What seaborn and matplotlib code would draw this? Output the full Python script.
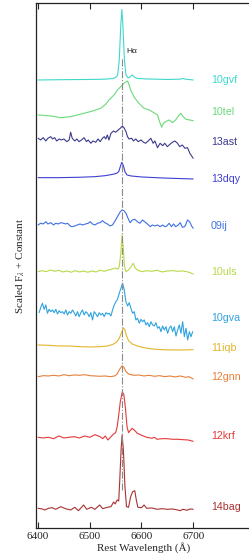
import numpy as np
import pandas as pd
import seaborn as sns
import matplotlib
matplotlib.use('Agg')
import matplotlib.pyplot as plt

# Spectra around H-alpha, flux scaled, offsets added below
names = ['10gvf', '10tel', '13ast', '13dqy', '09ij', '10uls',
         '10gva', '11iqb', '12gnn', '12krf', '14bag']
colors = ['#3fd8ca', '#6bd97c', '#3b3b8c', '#3f3fd2', '#3f70e2', '#b8d84a',
          '#2fa3de', '#e1b52b', '#e6803b', '#e23a3a', '#a83232']
offsets = [478, 443, 418, 380, 334, 286, 248, 212, 182, 120, 50]
label_y = [478.3, 446.3, 415.5, 378.5, 332.2, 285.5, 239.7, 209.7, 180.5, 122.2, 50.8]

wl_10gvf = [6400, 6450, 6500, 6530, 6545, 6550, 6554, 6557, 6560, 6562, 6564, 6567,
            6570, 6574, 6578, 6582, 6586, 6592, 6610, 6650, 6675, 6680, 6685, 6700]
fx_10gvf = [0, 0.3, 0.5, 0.8, 1.5, 2.5, 5, 20, 55, 70.5, 55, 20,
            5, 2, 3, 5, 3, 1.5, 1, 0.5, 0.8, 1.5, 0.8, 0]

wl_10tel = [6400, 6424.5, 6444, 6463, 6489, 6508, 6521, 6531, 6537, 6547, 6553.5, 6560,
            6566, 6573, 6576, 6579, 6586, 6595, 6605, 6615, 6624, 6631, 6635, 6639,
            6642.5, 6647, 6653.5, 6660, 6666, 6673, 6676, 6680.6, 6686, 6700]
fx_10tel = [0, -1, -2.7, -1.7, 1.7, 4.3, 6.7, 10.7, 15, 20, 25, 28.3,
            31.7, 34, 30, 25, 17.7, 11.7, 6.7, 5, 2.3, 0, -6.7, -12.3,
            -8.3, -6.7, -5, -7.7, -5, 0, 1.7, -1.7, -4.3, -5.7]

wl_13ast = [6400, 6405, 6410, 6415, 6419, 6424.5, 6428, 6432, 6436, 6441, 6445, 6450,
            6455.5, 6460, 6463, 6466, 6471, 6475, 6479, 6484, 6489, 6493.5, 6497, 6502,
            6506, 6511.5, 6516, 6520, 6524.5, 6528, 6531, 6534, 6537, 6541, 6546, 6550,
            6555, 6559, 6563, 6566, 6570, 6573, 6576, 6581, 6584.5, 6589, 6593.5, 6599,
            6604, 6608, 6613, 6618, 6622.5, 6626, 6631, 6636, 6641, 6645, 6650, 6655,
            6660, 6664.5, 6669.6, 6674, 6679, 6684, 6689, 6693.5, 6700]
fx_13ast = [1.7, 0, 2.3, -1, 1.7, 3.3, 1, 2.3, -1, 1, 0, 1,
            -1.7, 0, 7.7, 1.7, -1, 1, -1.7, 0, 2.3, -1.7, 0, -3.3,
            -1, -2.3, 1, -1.7, 1.7, 3.3, 1, 5, 0, 6.7, 9, 7.7,
            10, 11.7, 14, 12.3, 8.3, 3.3, 1, 1.7, -1, 1, -1.7, 0,
            -2.3, -3.3, -1, 1.7, -3.3, -1, -7.7, -3.3, -5.7, -3.3, -6.7, -4.3,
            -2.3, -1, -3.3, -6.7, -5, -8.3, -7.7, -13.3, -18.3]

wl_13dqy = [6400, 6440, 6480, 6510, 6530, 6545, 6552, 6556, 6559, 6562, 6565, 6568,
            6572, 6580, 6600, 6640, 6680, 6700]
fx_13dqy = [0.3, 0.3, 0.7, 1.3, 2.3, 3.7, 4.7, 6.3, 11.3, 15.7, 12.3, 6.3,
            3, 2, 1, 0, -0.7, -1]

wl_09ij = [6400, 6405, 6410, 6415, 6419, 6424.5, 6430, 6434, 6439, 6444, 6449, 6453.5,
           6457, 6462, 6466, 6471, 6476, 6481, 6486, 6492, 6497, 6501, 6505, 6510,
           6515, 6520, 6524.5, 6529, 6534, 6539, 6544, 6548, 6553.5, 6559, 6562.5, 6566,
           6570, 6574, 6578, 6582.5, 6587, 6592, 6597, 6602, 6606, 6611.5, 6617, 6621,
           6626, 6631, 6636, 6640.6, 6645, 6649, 6653.5, 6658, 6662, 6666, 6671, 6675,
           6679, 6683.5, 6686, 6689, 6693, 6697, 6700]
fx_09ij = [-1, 0.7, 0, 2.3, 0, 1.3, -1, 0.7, 0, 1.3, 0.7, 0,
           0.7, -2, -2.7, -2, -1, 0, -1, 0, 0.7, 2.3, 0, -1,
           0.7, 1.3, 3.3, 1.3, 0, -2, -1, 2.3, 7.3, 12.3, 14, 13.3,
           10.7, 5.7, 1.3, 4, 4.7, 2.3, 0.7, 4, 2.3, 0, -2.7, -1,
           -2, -1, -2.7, -1, -2.7, -2, 0.7, -2.7, 0, -2.7, -1, 1.3,
           -3.3, -2.7, 0, 4, 2.3, -2, -4.3]

wl_10uls = [6400, 6408, 6416, 6424, 6432, 6440, 6448, 6456, 6464, 6472, 6480, 6488,
            6496, 6504, 6512, 6520, 6528, 6536, 6544, 6550, 6554, 6557, 6560, 6562.5,
            6565, 6567, 6570, 6575, 6580, 6584, 6588, 6594, 6602, 6610, 6620, 6630,
            6640, 6650, 6660, 6670, 6680, 6690, 6700]
fx_10uls = [0.3, 1.3, 0.3, 2, 0.7, 1.7, 0, 1, -0.3, 1.3, 0, 1,
            -0.3, 1, 0, 1.7, 0.7, 2, 3, 4, 2.7, 5.3, 18.7, 37,
            22, 5.3, 0.3, 2, 5.3, 8.7, 3.7, 1.3, 0.3, 1.3, 0.7, 1.7,
            0, 1, 1.3, 0.7, 1, 0, -2]

wl_10gva = np.linspace(6402, 6699, 93)
fx_10gva = [-2.7, 2.7, 6.7, 0.7, 5, -3.3, 0.7, -1.7, 0, -2.7, 0.7, -4,
            -0.7, -2.7, -1.7, -4, 0, -5, -1.7, -3.3, 0, -2.7, -6, -1.7,
            -6.7, -2.7, 0, -5, -1.7, -3.3, -6.7, -2.7, -10, -1.7, -4, -6.7,
            -2.7, -5, -3.3, -6.7, -2.7, -4, -3.3, -6, 0, 5, 8.3, 10.7,
            16.7, 21.7, 26.7, 20, 8.3, 4, 7.3, 1.7, -3.3, -1.7, -10, -8.3,
            -13.3, -9.3, -11.7, -10, -15, -12.7, -16.7, -11.7, -15, -16, -12.7, -18.3,
            -16.7, -21.7, -16, -20, -16.7, -23.3, -18.3, -16, -21.7, -16.7, -26, -20,
            -15, -23.3, -11.7, -26.7, -18.3, -30, -21.7, -26.7, -21.7]

wl_11iqb = [6400, 6420, 6440, 6460, 6480, 6500, 6520, 6535, 6545, 6552, 6557, 6561,
            6565, 6568, 6571, 6575, 6582, 6592, 6605, 6620, 6640, 6660, 6680, 6700]
fx_11iqb = [1, 0.7, 0, 0, -0.7, -1, -0.7, 0, 1.7, 4, 7.7, 12.7,
            18, 16, 10, 5.3, 2, 0, -1.7, -3, -3.7, -4, -4, -3.7]

wl_12gnn = [6400, 6410, 6420, 6430, 6440, 6450, 6460, 6470, 6480, 6490, 6500, 6510,
            6520, 6530, 6540, 6548, 6553, 6557, 6562, 6566, 6570, 6576, 6585, 6595,
            6605, 6615, 6625, 6635, 6645, 6655, 6665, 6675, 6685, 6692, 6700]
fx_12gnn = [-0.7, 0.3, 0, 0.7, 0, 1.3, 0.3, 1, 0.7, 1.3, 0.3, 0,
            -0.3, 0, -0.7, 0, 2, 6, 10, 8.7, 4.3, 1.7, 0.7, 1,
            0, 0.7, -0.3, 0.3, -0.7, 0, -1, 0, -1.3, -0.7, -3]

wl_12krf = [6400, 6410, 6420, 6430, 6440, 6450, 6460, 6470, 6480, 6490, 6500, 6510,
            6520, 6525, 6530, 6535, 6540, 6546, 6550, 6553, 6556, 6559, 6563, 6566,
            6569, 6572, 6575, 6578, 6582, 6586, 6592, 6600, 6610, 6620, 6625, 6630,
            6640, 6650, 6660, 6670, 6680, 6690, 6700]
fx_12krf = [0.7, 0, 0.7, -0.7, 2, 0, 0.7, 1.3, 0, 2, 0.7, 3.3,
            1.3, -0.7, 2, -2, 0.7, 4, 5.3, 11.3, 23, 36.3, 46.3, 43,
            29.7, 11.3, 5.3, 7.3, 9.7, 8, 4.7, 2.7, 0.7, -0.3, 0.7, -1.3,
            -0.7, -0.7, -1.3, -1.3, -1.7, -2, -3.3]

wl_14bag = [6400, 6408, 6413, 6420, 6427, 6434, 6444, 6453, 6463, 6471, 6478, 6488,
            6494, 6503, 6510, 6519, 6525, 6534, 6541, 6546, 6549, 6553, 6556, 6558,
            6560.5, 6562.5, 6565, 6568, 6571, 6575, 6579, 6583, 6587, 6590, 6593, 6600,
            6605, 6610, 6620, 6630, 6640, 6650, 6660, 6670, 6675, 6680, 6688, 6694, 6700]
fx_14bag = [-0.3, -1, -2, -0.3, 0.3, -1.3, 1.3, -0.7, -2, 0.7, -2.7, 3,
            -1.3, 0.7, -1.3, 3, -0.7, 0.7, 1.3, 6, 4, 8, 7, 28,
            58, 73, 58, 21.3, 1.3, 0.7, 11.3, 16.3, 17.3, 8, 0.7, 0.3,
            3, -0.3, 0, -1.3, -0.7, -1.3, -1, -2, -2.7, -1.3, -2.3, -1, -1.3]

wavelengths = [wl_10gvf, wl_10tel, wl_13ast, wl_13dqy, wl_09ij, wl_10uls,
               wl_10gva, wl_11iqb, wl_12gnn, wl_12krf, wl_14bag]
fluxes = [fx_10gvf, fx_10tel, fx_13ast, fx_13dqy, fx_09ij, fx_10uls,
          fx_10gva, fx_11iqb, fx_12gnn, fx_12krf, fx_14bag]

sns.set_style('ticks')
plt.rcParams['font.family'] = ['Liberation Serif', 'DejaVu Serif']
plt.rcParams['mathtext.fontset'] = 'stix'

fig = plt.figure(figsize=(2.49, 5.58), dpi=100)
ax = fig.add_axes([0.1426, 0.0538, 0.872, 0.9409])

for name, col, off, ly, wl, fx in zip(names, colors, offsets, label_y, wavelengths, fluxes):
    d = pd.DataFrame({'wl': wl, 'flux': np.array(fx) + off})
    sns.lineplot(data=d, x='wl', y='flux', color=col, linewidth=0.8, ax=ax)
    ax.text(6734, ly, name, color=col, fontsize=7.7, va='center', ha='left',
            family=['Liberation Sans', 'DejaVu Sans'])

ax.plot([6563, 6563], [68, 501], color='#8a8a8a', linestyle='-.', linewidth=0.8)
ax.text(6570, 506.3, 'H\u03b1', fontsize=6, va='center', ha='left',
        family=['Liberation Sans', 'DejaVu Sans'])

ax.set_xlim(6395, 6815)
ax.set_ylim(30, 555)
ax.set_xticks([6400, 6500, 6600, 6700])
ax.set_yticks([])
ax.tick_params(axis='x', direction='in', top=True, length=4, width=0.8, labelsize=8, pad=3)
for s in ax.spines.values():
    s.set_linewidth(0.9)
    s.set_color('#222222')
ax.set_xlabel('Rest Wavelength (\u00c5)', fontsize=8, labelpad=1)
ax.set_ylabel('Scaled F$_{\\lambda}$ + Constant', fontsize=8, labelpad=6)

fig.savefig('out.png', dpi=100)
